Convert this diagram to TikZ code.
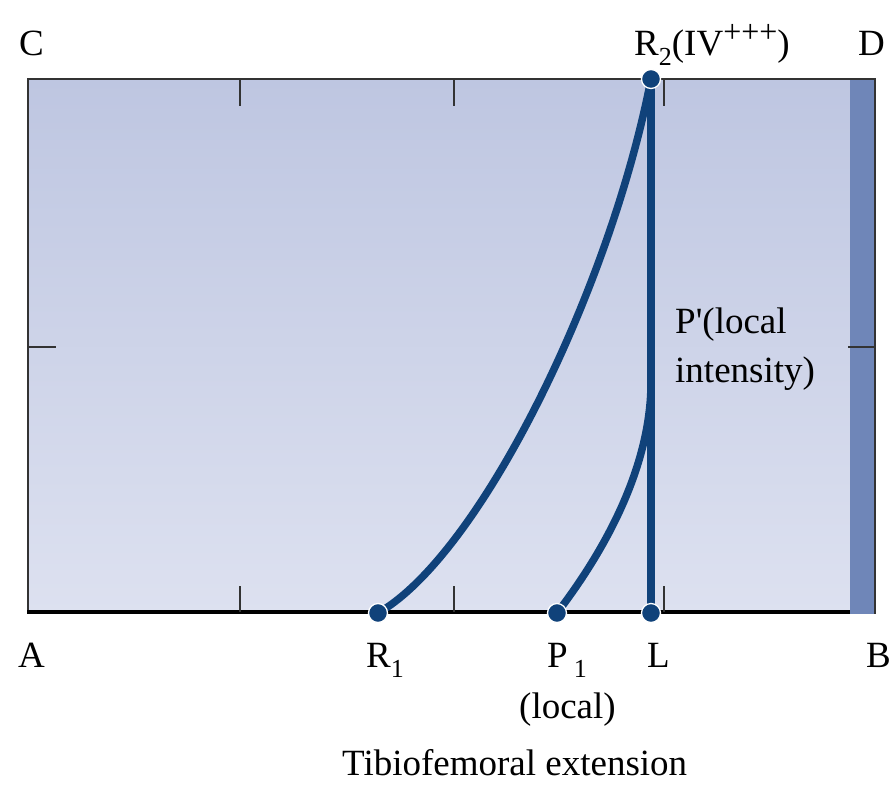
\documentclass[tikz,border=0pt]{standalone}
\usepackage{fontspec}
\setmainfont{Liberation Serif}[Ligatures=TeXOff]
\definecolor{panetop}{HTML}{BEC6E1}
\definecolor{panebot}{HTML}{DDE1F0}
\definecolor{strip}{HTML}{6F86B8}
\definecolor{curve}{HTML}{10427A}
\definecolor{frame}{HTML}{333333}
\newcommand{\labsub}[1]{\raisebox{-0.28em}{\fontsize{26}{26}\selectfont #1}}
\newcommand{\labsup}[1]{\raisebox{0.33em}{\fontsize{32}{32}\selectfont #1}}
\tikzset{
  lab/.style={inner sep=0pt, anchor=base west, font=\fontsize{37}{40}\selectfont},
  dotnode/.style={circle, fill=curve, draw=white, line width=1.3pt, minimum size=19pt, inner sep=0pt},
  curveline/.style={draw=curve, line width=7.5pt},
  tickline/.style={draw=frame, line width=1.4pt}
}
\begin{document}
\begin{tikzpicture}[x=1pt,y=-1pt]
\useasboundingbox (0,0) rectangle (894,790);
% panel
\fill[top color=panetop, bottom color=panebot] (28,79) rectangle (850,613);
\fill[strip] (850,79) rectangle (875,614);
\draw[frame, line width=2pt] (28,613) -- (28,79) -- (875,79) -- (875,614);
\draw[black, line width=3.2pt] (27,612) -- (850,612);
% ticks
\foreach \x in {240,454,664} {
  \draw[tickline] (\x,79) -- (\x,106);
  \draw[tickline] (\x,612) -- (\x,586);
}
\draw[tickline] (28,347) -- (56,347);
\draw[tickline] (848,347) -- (875,347);
% points
\coordinate (R1) at (378,613);
\coordinate (P1) at (557,613);
\coordinate (L) at (651,613);
\coordinate (R2) at (651,79);
\coordinate (J) at (651,385);
% curves
\draw[curveline] (R1) .. controls (480,555) and (610,290) .. (R2);
\draw[curveline] (P1) .. controls (603,553) and (650,470) .. (J);
\draw[curveline] (L) -- (R2);
\node[dotnode] (r1dot) at (R1) {};
\node[dotnode] (p1dot) at (P1) {};
\node[dotnode] (ldot) at (L) {};
\node[dotnode] (r2dot) at (R2) {};
% labels
\node[lab] (labC) at (19,55) {C};
\node[lab] (labR2) at (634,55) {R\labsub{2}(IV\labsup{+++})};
\node[lab] (labD) at (858,55) {D};
\node[lab] (labA) at (18,667) {A};
\node[lab] (labR1) at (366,667) {R\labsub{1}};
\node[lab] (labP1) at (547,667) {P\,\labsub{1}};
\node[lab] (labL) at (647,667) {L};
\node[lab] (labB) at (866,667) {B};
\node[lab] (labloc) at (519,718) {(local)};
\node[lab] (labP) at (675,333) {P'(local};
\node[lab] (labint) at (675,382) {intensity)};
\node[lab] (labT) at (342,775) {Tibiofemoral extension};
\end{tikzpicture}
\end{document}
